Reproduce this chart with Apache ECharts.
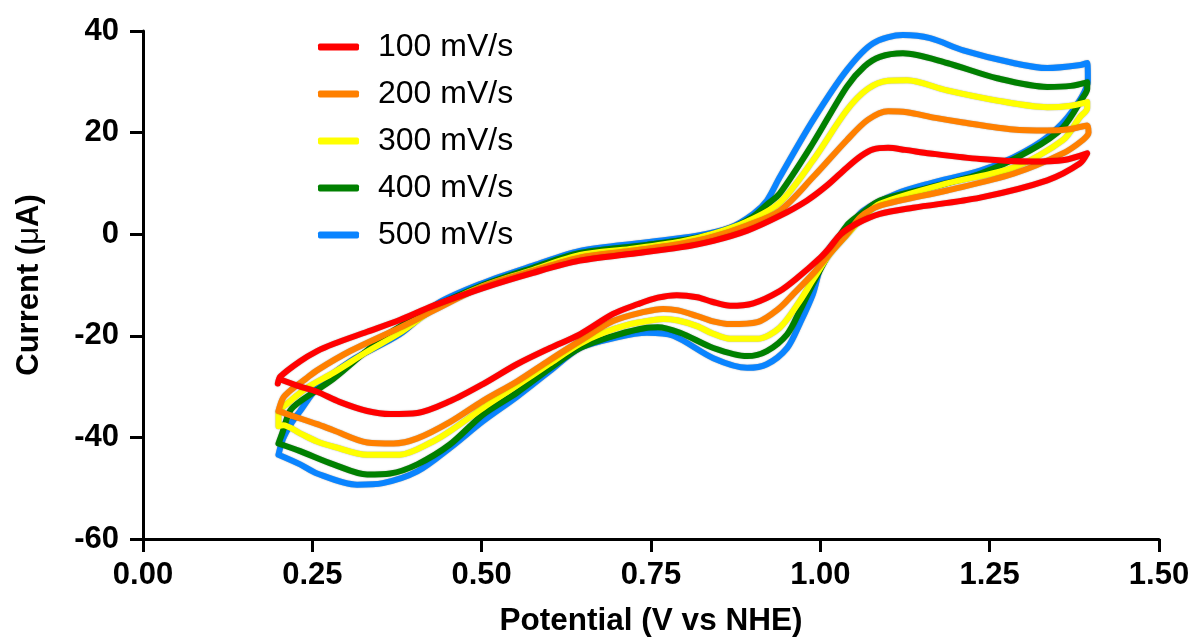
<!DOCTYPE html>
<html>
<head>
<meta charset="utf-8">
<script src="https://cdn.jsdelivr.net/npm/echarts@6/dist/echarts.min.js"></script>
<style>
html,body{margin:0;padding:0;background:#fff;}
#chart{width:1195px;height:638px;}
</style>
</head>
<body>
<div id="chart"></div>
<script>
// Scan-rate labels
const scanRates = ['100 mV/s', '200 mV/s', '300 mV/s', '400 mV/s', '500 mV/s'];
// Tick values
const xTicks = [0, 0.25, 0.5, 0.75, 1.0, 1.25, 1.5];
const yTicks = [-60, -40, -20, 0, 20, 40];

// [Potential (V vs NHE), Current (uA)] — anodic sweep then cathodic return
const cv100 = [[0.199,-29.4],[0.203,-28.0],[0.232,-25.0],[0.257,-23.0],[0.281,-21.6],[0.331,-19.2],[0.379,-16.9],[0.428,-14.1],[0.502,-10.6],[0.576,-7.6],[0.645,-5.2],[0.719,-3.9],[0.793,-2.6],[0.842,-1.3],[0.892,0.7],[0.940,3.6],[0.980,6.6],[1.010,9.6],[1.039,13.1],[1.060,15.4],[1.078,16.7],[1.100,17.0],[1.125,16.6],[1.162,15.9],[1.236,14.8],[1.310,14.3],[1.360,14.6],[1.394,15.9],
  [1.383,13.9],[1.335,10.6],[1.236,7.2],[1.137,5.2],[1.088,4.0],[1.054,2.1],[1.030,0.0],[1.014,-2.6],[1.000,-4.6],[0.966,-8.6],[0.940,-11.2],[0.901,-13.6],[0.867,-14.1],[0.840,-13.3],[0.818,-12.4],[0.788,-12.0],[0.760,-12.5],[0.730,-13.8],[0.694,-15.7],[0.645,-19.7],[0.601,-22.4],[0.552,-25.6],[0.502,-29.5],[0.453,-32.9],[0.405,-35.2],[0.365,-35.4],[0.331,-34.8],[0.290,-33.0],[0.257,-31.0],[0.230,-29.9],[0.203,-28.6]];
const cv200 = [[0.200,-34.8],[0.207,-32.2],[0.220,-30.5],[0.240,-28.5],[0.257,-26.8],[0.306,-23.0],[0.379,-18.4],[0.428,-15.1],[0.502,-10.3],[0.576,-7.2],[0.645,-4.6],[0.719,-3.3],[0.793,-1.9],[0.842,-0.5],[0.892,1.7],[0.940,4.6],[0.989,11.2],[1.039,18.5],[1.070,22.5],[1.100,24.2],[1.128,24.0],[1.170,22.9],[1.211,22.0],[1.285,20.6],[1.335,20.4],[1.370,20.7],[1.394,21.4],
  [1.396,20.0],[1.388,18.6],[1.358,15.9],[1.285,11.9],[1.187,8.6],[1.088,5.6],[1.060,3.5],[1.039,0.0],[1.014,-3.8],[0.989,-7.8],[0.960,-11.8],[0.940,-14.5],[0.907,-17.3],[0.867,-17.7],[0.840,-17.1],[0.818,-16.1],[0.790,-15.0],[0.768,-14.7],[0.740,-15.3],[0.694,-17.1],[0.645,-21.0],[0.600,-24.8],[0.552,-29.0],[0.502,-32.8],[0.453,-37.0],[0.405,-40.2],[0.370,-41.2],[0.331,-41.0],[0.281,-38.6],[0.257,-37.4],[0.217,-35.6],[0.200,-34.8]];
const cv300 = [[0.200,-37.8],[0.200,-35.2],[0.217,-32.9],[0.245,-30.0],[0.281,-27.3],[0.330,-23.2],[0.379,-19.4],[0.428,-14.9],[0.502,-10.2],[0.576,-7.0],[0.645,-4.1],[0.719,-2.9],[0.793,-1.5],[0.842,0.1],[0.892,2.5],[0.940,6.2],[0.989,14.5],[1.039,24.4],[1.070,28.6],[1.100,30.2],[1.128,30.3],[1.187,28.3],[1.261,26.3],[1.335,25.0],[1.370,25.3],[1.394,26.0],
  [1.394,24.8],[1.383,23.0],[1.358,18.5],[1.285,13.1],[1.187,10.0],[1.088,6.0],[1.063,3.3],[1.040,0.0],[1.014,-3.9],[0.990,-8.8],[0.970,-13.1],[0.940,-18.4],[0.907,-20.6],[0.867,-20.6],[0.840,-19.5],[0.818,-18.1],[0.790,-17.0],[0.768,-16.7],[0.740,-17.2],[0.719,-17.7],[0.680,-19.4],[0.645,-21.6],[0.600,-25.5],[0.552,-29.8],[0.502,-34.2],[0.453,-38.8],[0.428,-40.8],[0.379,-43.4],[0.331,-43.4],[0.281,-41.8],[0.257,-40.8],[0.232,-39.2],[0.207,-37.6],[0.200,-37.8]];
const cv400 = [[0.200,-41.2],[0.205,-39.4],[0.217,-34.8],[0.232,-32.9],[0.281,-28.5],[0.354,-20.4],[0.428,-14.5],[0.502,-10.0],[0.576,-6.6],[0.645,-3.7],[0.744,-2.1],[0.818,-0.7],[0.867,1.1],[0.901,3.5],[0.921,5.8],[0.940,8.0],[0.989,17.9],[1.039,29.0],[1.065,33.0],[1.088,34.9],[1.122,35.6],[1.187,33.7],[1.261,30.7],[1.335,29.0],[1.370,29.2],[1.394,29.9],
  [1.394,28.6],[1.388,27.0],[1.358,21.0],[1.310,16.5],[1.236,11.9],[1.162,9.2],[1.088,6.6],[1.060,4.0],[1.039,1.7],[1.014,-3.5],[0.989,-9.8],[0.970,-15.0],[0.951,-19.7],[0.921,-23.0],[0.892,-24.0],[0.842,-22.4],[0.793,-19.4],[0.760,-18.3],[0.744,-18.4],[0.700,-19.8],[0.645,-22.4],[0.600,-26.5],[0.552,-31.2],[0.502,-35.5],[0.453,-41.4],[0.405,-45.3],[0.365,-47.1],[0.331,-47.3],[0.281,-45.3],[0.232,-42.7],[0.200,-41.2]];
const cv500 = [[0.200,-43.4],[0.207,-40.2],[0.220,-37.0],[0.232,-34.8],[0.257,-30.3],[0.306,-25.0],[0.379,-19.7],[0.434,-13.7],[0.502,-9.6],[0.576,-6.2],[0.645,-3.3],[0.744,-1.6],[0.818,-0.3],[0.867,1.3],[0.901,4.0],[0.921,6.6],[0.940,11.2],[0.989,22.4],[1.039,32.3],[1.078,37.6],[1.122,39.2],[1.162,38.6],[1.211,36.2],[1.285,33.7],[1.335,32.7],[1.384,33.3],[1.394,33.7],
  [1.395,30.3],[1.373,24.4],[1.335,19.1],[1.285,15.1],[1.236,12.5],[1.162,10.0],[1.113,8.0],[1.063,4.6],[1.040,1.0],[1.014,-2.6],[1.000,-6.6],[0.989,-11.8],[0.970,-17.5],[0.951,-22.4],[0.921,-25.6],[0.892,-26.3],[0.842,-24.4],[0.783,-20.0],[0.744,-19.4],[0.700,-20.3],[0.645,-22.4],[0.600,-27.0],[0.552,-32.0],[0.502,-36.8],[0.453,-42.1],[0.405,-46.7],[0.354,-49.0],[0.316,-49.3],[0.257,-47.1],[0.232,-45.3],[0.200,-43.4]];

const colors = ['#FF0000', '#FF8000', '#FFFF00', '#008000', '#0A84FF'];
const allData = [cv100, cv200, cv300, cv400, cv500];

const FONT = '"Liberation Sans", Arial, Helvetica, sans-serif';

const chart = echarts.init(document.getElementById('chart'), null, {renderer: 'canvas'});

// draw 500 first so 100 ends on top
const series = [];
for (let i = allData.length - 1; i >= 0; i--) {
  series.push({
    name: scanRates[i],
    type: 'line',
    data: allData[i],
    showSymbol: false,
    symbol: 'none',
    smooth: 0.3,
    color: colors[i],
    lineStyle: {
      width: 6, color: colors[i], cap: 'round', join: 'round',
      shadowColor: 'rgba(0,0,0,0.35)', shadowBlur: 1.5
    },
    emphasis: {disabled: true}
  });
}

chart.setOption({
  animation: false,
  backgroundColor: '#ffffff',
  grid: {left: 143, right: 36, top: 31, bottom: 99, containLabel: false, outerBoundsMode: 'none'},
  legend: {
    orient: 'vertical',
    left: 318,
    top: 31,
    padding: 0,
    data: scanRates.map((n, i) => ({name: n, icon: 'roundRect', itemStyle: {color: colors[i]}})),
    itemWidth: 41,
    itemHeight: 7,
    itemGap: 15,
    textStyle: {fontFamily: FONT, fontSize: 32, color: '#000', lineHeight: 31, padding: [0, 0, 0, 14]}
  },
  xAxis: {
    type: 'value',
    min: xTicks[0], max: xTicks[xTicks.length - 1], interval: 0.25,
    name: 'Potential (V vs NHE)',
    nameLocation: 'middle',
    nameGap: 66,
    nameTextStyle: {fontFamily: FONT, fontSize: 31.5, fontWeight: 'bold', color: '#000'},
    axisLine: {onZero: false, lineStyle: {color: '#000', width: 3}},
    axisTick: {show: true, inside: false, length: 13, lineStyle: {color: '#000', width: 3}},
    axisLabel: {fontFamily: FONT, fontSize: 31, fontWeight: 'bold', color: '#000', margin: 21,
      formatter: v => v.toFixed(2)},
    splitLine: {show: false}
  },
  yAxis: {
    type: 'value',
    min: yTicks[0], max: yTicks[yTicks.length - 1], interval: 20,
    name: 'Current ({m|μ}A)',
    nameLocation: 'middle',
    nameGap: 98,
    nameRotate: 90,
    nameTextStyle: {fontFamily: FONT, fontSize: 31, fontWeight: 'bold', color: '#000',
      rich: {m: {fontFamily: FONT, fontSize: 31, fontWeight: 'normal', color: '#000'}}},
    axisLine: {onZero: false, lineStyle: {color: '#000', width: 3}},
    axisTick: {show: true, inside: false, length: 13, lineStyle: {color: '#000', width: 3}},
    axisLabel: {fontFamily: FONT, fontSize: 31, fontWeight: 'bold', color: '#000', margin: 24},
    splitLine: {show: false}
  },
  series: series
});
</script>
</body>
</html>
